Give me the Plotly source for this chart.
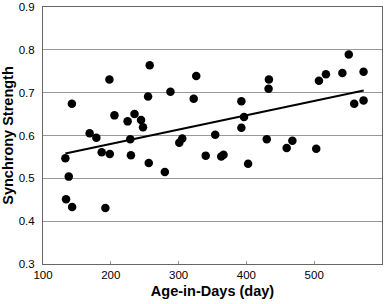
import plotly.graph_objects as go

age_days = [133, 138, 134, 143, 142.6, 168.8, 178.7, 186.6, 192, 198, 198.5, 205.4,
            224.8, 228.7, 229.7, 235, 244.6, 247.5, 255, 256, 257.4, 279.7, 288, 301,
            305.4, 322.3, 326, 340, 354, 362.9, 366.3, 392.6, 392.6, 396.5, 402.5, 430,
            432.7, 433.2, 459.4, 467.8, 503, 507, 517.3, 541.6, 551, 559, 572.8, 572.8]
synchrony = [0.547, 0.504, 0.451, 0.433, 0.674, 0.605, 0.595, 0.561, 0.431, 0.731, 0.557, 0.647,
             0.633, 0.591, 0.554, 0.650, 0.636, 0.619, 0.691, 0.536, 0.764, 0.515, 0.702, 0.583,
             0.593, 0.686, 0.739, 0.553, 0.602, 0.551, 0.555, 0.680, 0.618, 0.643, 0.534, 0.591,
             0.709, 0.731, 0.571, 0.588, 0.569, 0.728, 0.743, 0.746, 0.789, 0.674, 0.749, 0.682]

trend_x = [133, 573]
trend_y = [0.558, 0.705]

x_ticks = [100, 200, 300, 400, 500, 600]
y_ticks = [0.3, 0.4, 0.5, 0.6, 0.7, 0.8, 0.9]

fig = go.Figure()
fig.add_trace(go.Scatter(x=age_days, y=synchrony, mode="markers",
                         marker=dict(color="black", size=8.5, line=dict(width=0)),
                         showlegend=False))
fig.add_trace(go.Scatter(x=trend_x, y=trend_y, mode="lines",
                         line=dict(color="black", width=2), showlegend=False))

fig.update_layout(
    width=387, height=304,
    margin=dict(l=43, r=5, t=7, b=40, autoexpand=False),
    paper_bgcolor="white", plot_bgcolor="white",
    font=dict(family="Liberation Sans, Arial, sans-serif", color="black", size=11.5),
    xaxis=dict(range=[100, 600], tickvals=x_ticks, ticktext=[str(v) for v in x_ticks],
               showgrid=False, zeroline=False,
               showline=True, linecolor="#666", linewidth=1, mirror=True,
               ticks="inside", ticklen=3, tickcolor="#999",
               title=dict(text="<b>Age-in-Days (day)</b>", font=dict(size=14.5), standoff=6)),
    yaxis=dict(range=[0.3, 0.9], tickvals=y_ticks, ticktext=[f"{v:.1f}" for v in y_ticks],
               showgrid=True, gridcolor="#999", gridwidth=1, zeroline=False,
               showline=True, linecolor="#666", linewidth=1, mirror=True,
               ticks="", ticklabelstandoff=5,
               title=dict(text="<b>Synchrony Strength</b>", font=dict(size=14.5), standoff=4)),
)

fig.write_html("out.html", config={"displayModeBar": False},
               post_script="document.body.style.margin='0';document.body.style.overflow='hidden';")
